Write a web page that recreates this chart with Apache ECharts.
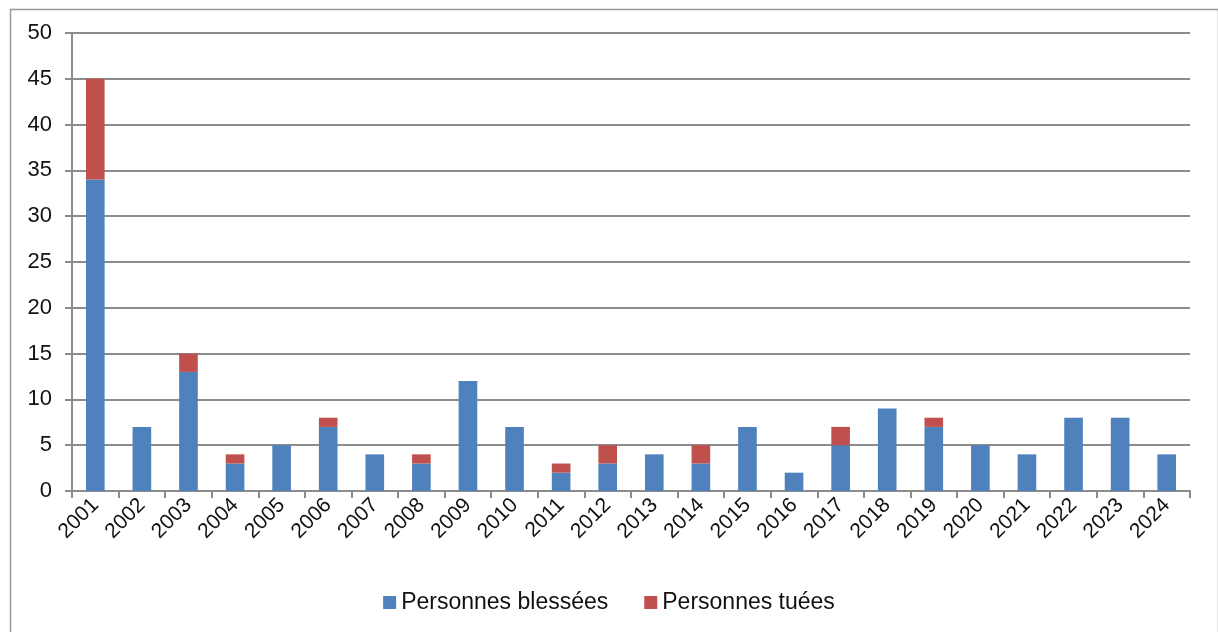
<!DOCTYPE html>
<html>
<head>
<meta charset="utf-8">
<script src="https://cdn.jsdelivr.net/npm/echarts@6/dist/echarts.min.js"></script>
<style>
html,body{margin:0;padding:0;background:#fff;}
#c{width:1218px;height:632px;}
</style>
</head>
<body>
<div id="c"></div>
<script>
var years = ['2001','2002','2003','2004','2005','2006','2007','2008','2009','2010','2011','2012','2013','2014','2015','2016','2017','2018','2019','2020','2021','2022','2023','2024'];
var blessees = [34,7,13,3,5,7,4,3,12,7,2,3,4,3,7,2,5,9,7,5,4,8,8,4];
var tuees = [11,0,2,1,0,1,0,1,0,0,1,2,0,2,0,0,2,0,1,0,0,0,0,0];
var yTicks = [0,5,10,15,20,25,30,35,40,45,50];

var chart = echarts.init(document.getElementById('c'));
var gray = '#8c8c8c';
chart.setOption({
  animation: false,
  backgroundColor: '#fff',
  textStyle: {fontFamily: 'Liberation Sans, Arial, sans-serif'},
  graphic: [{
    type: 'rect', left: 8, top: 7, z: -1,
    shape: {width: 1208, height: 630},
    style: {fill: 'none', stroke: '#999', lineWidth: 1.5}
  }],
  grid: {left: 72, right: 28, top: 33, bottom: 141},
  legend: {
    top: 586, left: 'center',
    itemWidth: 13, itemHeight: 13, itemGap: 36,
    icon: 'rect',
    textStyle: {fontSize: 23, color: '#111', padding: [0, 0, 0, 0], fontFamily: 'Liberation Sans, Arial, sans-serif'},
    data: ['Personnes blessées', 'Personnes tuées']
  },
  xAxis: {
    type: 'category',
    data: years,
    axisLine: {lineStyle: {color: gray, width: 2}},
    axisTick: {show: true, interval: 0, length: 7, lineStyle: {color: gray, width: 2}},
    axisLabel: {rotate: 45, fontSize: 21, color: '#111', margin: 11, interval: 0}
  },
  yAxis: {
    type: 'value', min: 0, max: 50, interval: 5,
    axisLine: {show: true, lineStyle: {color: gray, width: 2}},
    axisTick: {show: true, length: 7, lineStyle: {color: gray, width: 2}},
    axisLabel: {fontSize: 22, color: '#111', margin: 20,
      formatter: function(v){ return yTicks.indexOf(v) >= 0 ? String(v) : ''; }},
    splitLine: {lineStyle: {color: gray, width: 2}}
  },
  series: [
    {name: 'Personnes blessées', type: 'bar', stack: 'a', data: blessees, barWidth: '40%',
     itemStyle: {color: '#4F81BD'}},
    {name: 'Personnes tuées', type: 'bar', stack: 'a', data: tuees, barWidth: '40%',
     itemStyle: {color: '#C0504D'}}
  ]
});
</script>
</body>
</html>
